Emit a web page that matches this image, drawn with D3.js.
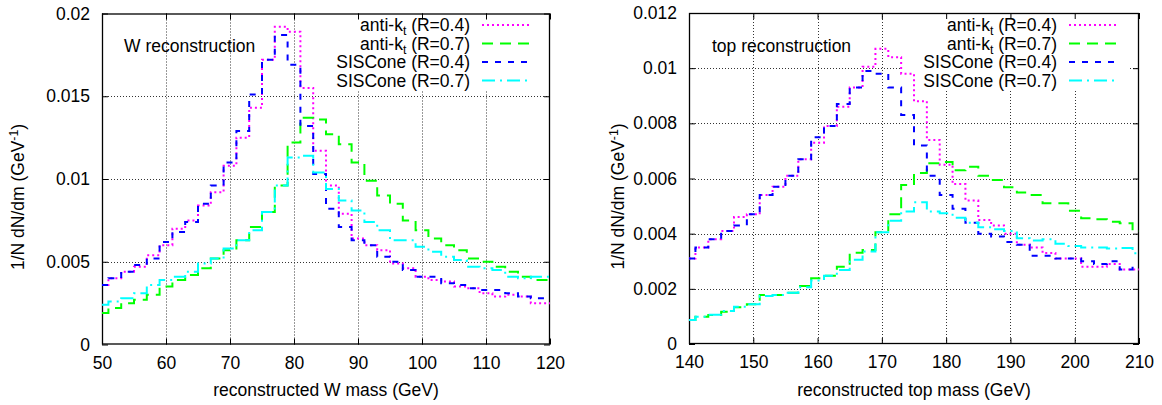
<!DOCTYPE html>
<html><head><meta charset="utf-8">
<script src="https://cdn.jsdelivr.net/npm/d3@7"></script>
<style>body{margin:0;background:#fff}text{font-family:"Liberation Sans",Arial,Helvetica,sans-serif;fill:#000}</style>
</head><body>
<script>
// ---- W reconstruction panel data (bin centres in GeV, 2 GeV bins) ----
const wMass = [50,52,54,56,58,60,62,64,66,68,70,72,74,76,78,80,82,84,86,88,90,92,94,96,98,100,102,104,106,108,110,112,114,116,118,120];
const wAntiKt04 = [0.0036,0.0040,0.0044,0.0047,0.0054,0.0060,0.0070,0.0075,0.0084,0.0092,0.0108,0.0125,0.0143,0.0172,0.0192,0.0189,0.0155,0.0117,0.0096,0.0079,0.0064,0.0060,0.0057,0.0049,0.0046,0.0041,0.0039,0.0038,0.0035,0.0034,0.0031,0.0029,0.0030,0.0029,0.0025,0.0025];
const wAntiKt07 = [0.0019,0.0022,0.0025,0.0027,0.0030,0.0035,0.0039,0.0042,0.0046,0.0052,0.0057,0.0063,0.0071,0.0080,0.0096,0.0122,0.0137,0.0136,0.0127,0.0121,0.0110,0.0099,0.0090,0.0085,0.0075,0.0069,0.0064,0.0060,0.0057,0.0052,0.0050,0.0047,0.0044,0.0041,0.0039,0.0039];
const wSIS04 = [0.0036,0.0040,0.0044,0.0048,0.0052,0.0062,0.0068,0.0074,0.0085,0.0096,0.0110,0.0129,0.0151,0.0172,0.0187,0.0169,0.0132,0.0103,0.0082,0.0071,0.0063,0.0060,0.0053,0.0050,0.0045,0.0041,0.0041,0.0037,0.0036,0.0034,0.0033,0.0033,0.0031,0.0029,0.0028,0.0028];
const wSIS07 = [0.0024,0.0026,0.0028,0.0031,0.0036,0.0039,0.0041,0.0044,0.0049,0.0052,0.0058,0.0063,0.0069,0.0080,0.0096,0.0113,0.0114,0.0104,0.0094,0.0087,0.0081,0.0074,0.0069,0.0063,0.0063,0.0059,0.0056,0.0053,0.0051,0.0047,0.0046,0.0045,0.0041,0.0040,0.0041,0.0041];
const wXTicks = [50,60,70,80,90,100,110,120];
const wYTicks = [0,0.005,0.01,0.015,0.02];

// ---- top reconstruction panel data ----
const topMass = [140,142,144,146,148,150,152,154,156,158,160,162,164,166,168,170,172,174,176,178,180,182,184,186,188,190,192,194,196,198,200,202,204,206,208,210];
const topAntiKt04 = [0.0031,0.0035,0.0038,0.0041,0.0046,0.0047,0.0054,0.0057,0.0061,0.0067,0.0073,0.0079,0.0086,0.0093,0.01005,0.0107,0.0104,0.0098,0.0088,0.0074,0.0065,0.0058,0.0052,0.0045,0.0043,0.0040,0.0036,0.0035,0.0033,0.0031,0.0031,0.0028,0.0028,0.0029,0.0027,0.0027];
const topAntiKt07 = [0.00087,0.00099,0.00105,0.00117,0.00133,0.00144,0.00178,0.00178,0.00186,0.0021,0.00238,0.00247,0.0028,0.00331,0.00341,0.00405,0.0047,0.00576,0.0062,0.00655,0.0066,0.0063,0.00643,0.0061,0.00595,0.00568,0.00549,0.0054,0.0051,0.0051,0.00483,0.00456,0.00452,0.00443,0.00438,0.0041];
const topSIS04 = [0.0031,0.0035,0.0038,0.0041,0.0043,0.0047,0.0054,0.0057,0.0061,0.0067,0.0075,0.0079,0.0087,0.0093,0.0099,0.0098,0.0093,0.0083,0.0072,0.0061,0.0054,0.0049,0.0044,0.0040,0.0039,0.0037,0.0036,0.0032,0.0032,0.0031,0.0031,0.0030,0.0029,0.0030,0.0027,0.0028];
const topSIS07 = [0.00087,0.00099,0.00106,0.0012,0.00135,0.00144,0.00174,0.00178,0.00186,0.00206,0.0023,0.00247,0.00268,0.00305,0.00335,0.00405,0.00447,0.0048,0.00514,0.0048,0.00474,0.00458,0.0044,0.00423,0.00416,0.0041,0.00383,0.00375,0.0038,0.00363,0.00355,0.0035,0.0035,0.00346,0.00348,0.00329];
const topXTicks = [140,150,160,170,180,190,200,210];
const topYTicks = [0,0.002,0.004,0.006,0.008,0.01,0.012];

// ---- legend ----
const legendLabels = [
  ["anti-k","t"," (R=0.4)"],
  ["anti-k","t"," (R=0.7)"],
  ["SISCone","",""+" (R=0.4)"],
  ["SISCone","",""+" (R=0.7)"]
];
const seriesColors = ["#ff00ff","#00ff00","#0000ff","#00ffff"];
const seriesDash = ["2,3","11,7","6,7","13,5,2,5"];

const FS = 17.5;
const svg = d3.select("body").append("svg").attr("width",1162).attr("height",405);

function panel(o){
  const x = d3.scaleLinear().domain(o.xDomain).range([o.left,o.right]);
  const y = d3.scaleLinear().domain(o.yDomain).range([o.bottom,o.top]);
  const g = svg.append("g");
  const cid = "clip"+o.id;
  svg.append("defs").append("clipPath").attr("id",cid).append("rect")
    .attr("x",o.left).attr("y",o.top).attr("width",o.right-o.left).attr("height",o.bottom-o.top);

  // grid
  const grid = g.append("g").attr("stroke","#333").attr("stroke-width",1).attr("stroke-dasharray","1,2");
  o.xTicks.slice(1,-1).forEach(t=>grid.append("line").attr("x1",Math.round(x(t))+0.5).attr("x2",Math.round(x(t))+0.5).attr("y1",o.top).attr("y2",o.bottom));
  o.yTicks.slice(1,-1).forEach(t=>grid.append("line").attr("y1",Math.round(y(t))+0.5).attr("y2",Math.round(y(t))+0.5).attr("x1",o.left).attr("x2",o.right));

  // legend background (opaque key)
  g.append("rect").attr("x",o.keyBox[0]).attr("y",o.keyBox[1]).attr("width",o.keyBox[2]).attr("height",o.keyBox[3]).attr("fill","#fff");

  // axes with inside ticks + mirrored
  const ax = g.append("g");
  ax.append("g").attr("transform",`translate(0,${o.bottom})`).call(d3.axisBottom(x).tickValues(o.xTicks).tickSize(-6).tickPadding(12).tickFormat(d3.format("d")));
  ax.append("g").attr("transform",`translate(0,${o.top})`).call(d3.axisTop(x).tickValues(o.xTicks).tickSize(-6).tickFormat(""));
  ax.append("g").attr("transform",`translate(${o.left},0)`).call(d3.axisLeft(y).tickValues(o.yTicks).tickSize(-6).tickPadding(12).tickFormat(d=>o.yFmt(d)));
  ax.append("g").attr("transform",`translate(${o.right},0)`).call(d3.axisRight(y).tickValues(o.yTicks).tickSize(-6).tickFormat(""));
  ax.selectAll(".domain").remove();
  ax.selectAll(".tick line").attr("stroke","#000");
  ax.selectAll("text").attr("font-size",FS).attr("font-family","Liberation Sans, Arial, sans-serif").attr("fill","#000");
  g.append("rect").attr("x",o.left+0.5).attr("y",o.top+0.5).attr("width",o.right-o.left-1).attr("height",o.bottom-o.top-1).attr("fill","none").attr("stroke","#000").attr("stroke-width",1.3);

  // series (histogram steps)
  const line = d3.line().x((d,i)=>x(o.xs[i])).y(d=>y(d)).curve(d3.curveStep);
  const lines = g.append("g").attr("clip-path",`url(#${cid})`);
  o.series.forEach((s,i)=>{
    lines.append("path").datum(s).attr("d",line).attr("fill","none")
      .attr("stroke",seriesColors[i]).attr("stroke-width",2).attr("stroke-dasharray",seriesDash[i]);
  });

  // legend
  const rows = [25,43.5,62,80.5];
  legendLabels.forEach((lab,i)=>{
    const t = g.append("text").attr("x",o.keyTextEnd).attr("y",rows[i]+6).attr("text-anchor","end").attr("font-size",FS);
    t.append("tspan").text(lab[0]);
    if(lab[1]){ t.append("tspan").attr("dy",4).attr("font-size",FS*0.7).text(lab[1]); t.append("tspan").attr("dy",-4).text(lab[2]); }
    else t.append("tspan").text(lab[2]);
    g.append("line").attr("x1",o.keyTextEnd+12).attr("x2",o.keyTextEnd+60).attr("y1",rows[i]).attr("y2",rows[i])
      .attr("stroke",seriesColors[i]).attr("stroke-width",2).attr("stroke-dasharray",seriesDash[i]);
  });

  // labels
  g.append("text").attr("x",o.labelX).attr("y",52).attr("font-size",FS).text(o.label);
  g.append("text").attr("x",(o.left+o.right)/2).attr("y",396).attr("text-anchor","middle").attr("font-size",FS).text(o.xTitle);
  const yt = g.append("text").attr("transform",`translate(${o.yTitleX},${(o.top+o.bottom)/2+18}) rotate(-90)`).attr("text-anchor","middle").attr("font-size",FS);
  yt.append("tspan").text("1/N dN/dm (GeV");
  yt.append("tspan").attr("dy",-6).attr("font-size",FS*0.7).text("-1");
  yt.append("tspan").attr("dy",6).text(")");
}

panel({id:"w",left:102,right:550,top:13.5,bottom:344.5,xDomain:[50,120],yDomain:[0,0.02],
  xTicks:wXTicks,yTicks:wYTicks,yFmt:d=>d===0?"0":String(+d.toFixed(3)),xs:wMass,
  series:[wAntiKt04,wAntiKt07,wSIS04,wSIS07],keyBox:[312,15,228,76],keyTextEnd:470,
  label:"W reconstruction",labelX:124,xTitle:"reconstructed W mass (GeV)",yTitleX:24});
panel({id:"t",left:689,right:1139,top:13,bottom:344,xDomain:[140,210],yDomain:[0,0.012],
  xTicks:topXTicks,yTicks:topYTicks,yFmt:d=>d===0?"0":String(+d.toFixed(3)),xs:topMass,
  series:[topAntiKt04,topAntiKt07,topSIS04,topSIS07],keyBox:[900,15,228,76],keyTextEnd:1057,
  label:"top reconstruction",labelX:712,xTitle:"reconstructed top mass (GeV)",yTitleX:624});
</script>
</body></html>
